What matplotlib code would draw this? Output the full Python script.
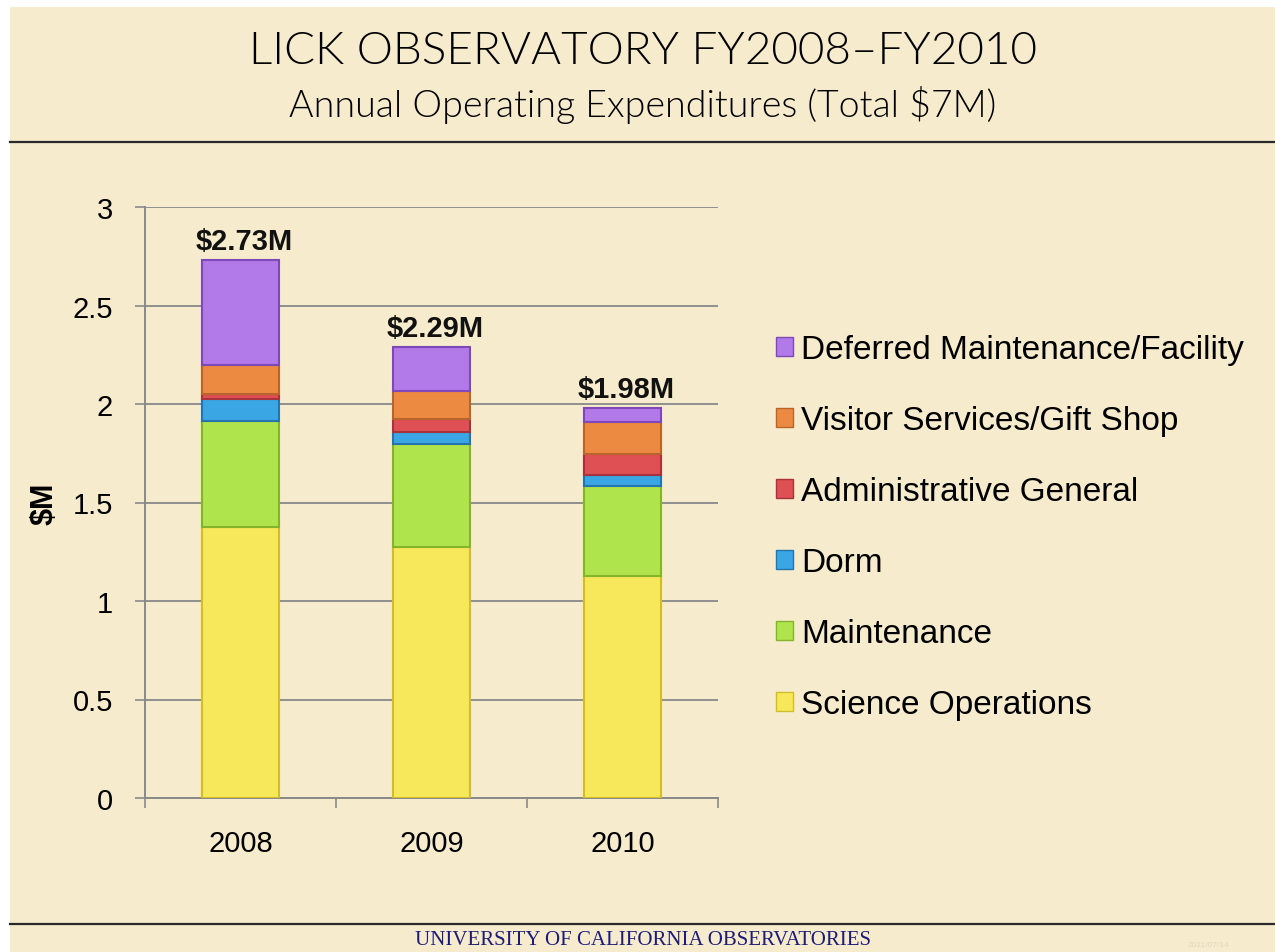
import matplotlib
matplotlib.use("Agg")
import matplotlib.pyplot as plt
from matplotlib.patches import Patch, Rectangle
from matplotlib.lines import Line2D
import numpy as np

# datos ($M)
years = ["2008", "2009", "2010"]
categories = ["Science Operations", "Maintenance", "Dorm",
              "Administrative General", "Visitor Services/Gift Shop",
              "Deferred Maintenance/Facility"]
science = [1.375, 1.273, 1.128]
maintenance = [0.540, 0.524, 0.454]
dorm = [0.110, 0.062, 0.058]
admin = [0.025, 0.065, 0.106]
visitor = [0.150, 0.143, 0.161]
deferred = [0.530, 0.223, 0.073]
total_labels = ["$2.73M", "$2.29M", "$1.98M"]

colors = ["#f6e85a", "#b0e44c", "#3ba6e4", "#de5054", "#ec8a42", "#b27ae8"]
edges = ["#d2bc2a", "#84b42a", "#2474b0", "#a8333a", "#b8642a", "#7e48b8"]

plt.rcParams["font.family"] = ["Liberation Sans", "DejaVu Sans"]

W, H = 1275, 953
fig = plt.figure(figsize=(W / 100, H / 100), dpi=100)
fig.patch.set_facecolor("white")
fig.patches.append(Rectangle((10 / W, 0), 1 - 10 / W, 1 - 8 / H,
                             transform=fig.transFigure, facecolor="#f6ebcd",
                             edgecolor="none", zorder=-10))

# lineas horizontales del marco
fig.add_artist(Line2D([10 / W, 1], [1 - 143 / H] * 2, color="#2a2a2a", lw=1.6,
                      transform=fig.transFigure))
fig.add_artist(Line2D([10 / W, 1], [1 - 925 / H] * 2, color="#2a2a2a", lw=1.6,
                      transform=fig.transFigure))

fig.text(643 / W, 1 - 52 / H, "LICK OBSERVATORY FY2008\u2013FY2010",
         ha="center", va="center", fontsize=33, fontweight=300,
         family=["Lato", "DejaVu Sans"], color="black")
fig.text(643 / W, 1 - 105 / H, "Annual Operating Expenditures (Total $7M)",
         ha="center", va="center", fontsize=27, fontweight=300,
         family=["Lato", "DejaVu Sans"], color="black")
fig.text(643 / W, 1 - 941 / H, "UNIVERSITY OF CALIFORNIA OBSERVATORIES",
         ha="center", va="center", fontsize=15,
         family=["Liberation Serif", "DejaVu Serif"], color="#1c1c78")
fig.text(1208 / W, 1 - 946 / H, "2011/07/14", ha="center", va="center",
         fontsize=6, color="#e2d8bd")
fig.text(45 / W, 1 - 504 / H, "$M", ha="center", va="center", rotation=90,
         fontsize=22, fontweight="bold")

ax = fig.add_axes([145 / W, 1 - 799 / H, 573 / W, 591 / H])
ax.set_facecolor("none")

x = np.arange(len(years))
series = [science, maintenance, dorm, admin, visitor, deferred]
bottom = np.zeros(len(years))
for vals, name, c, ec in zip(series, categories, colors, edges):
    ax.bar(x, vals, width=0.40, bottom=bottom, color=c, edgecolor=ec,
           linewidth=1.5, label=name, zorder=3)
    bottom = bottom + np.array(vals)

for xi, top, lab in zip(x, bottom, total_labels):
    ax.text(xi + 0.02, top + 0.025, lab, ha="center", va="bottom",
            fontsize=21, fontweight="bold", color="#111111")

ax.set_xlim(-0.5, 2.5)
ax.set_ylim(0, 3)
ax.set_yticks([0, 0.5, 1, 1.5, 2, 2.5, 3])
ax.set_yticklabels(["0", "0.5", "1", "1.5", "2", "2.5", "3"])
ax.set_xticks(x)
ax.set_xticklabels(years)
ax.set_xticks([-0.5, 0.5, 1.5, 2.5], minor=True)
ax.tick_params(axis="x", which="major", length=0, pad=22, labelsize=21)
ax.tick_params(axis="x", which="minor", length=7, color="#8a8a8a", width=1.2)
ax.tick_params(axis="y", length=7, color="#8a8a8a", width=1.2, pad=16,
               labelsize=21)
ax.grid(axis="y", color="#8f8f8f", linewidth=1.4, zorder=0)
for s in ["top", "right"]:
    ax.spines[s].set_visible(False)
for s in ["left", "bottom"]:
    ax.spines[s].set_color("#8a8a8a")
    ax.spines[s].set_linewidth(1.4)

handles = [Patch(facecolor=c, edgecolor=ec) for c, ec in zip(colors, edges)]
leg = fig.legend(handles[::-1], categories[::-1], loc="upper left",
                 bbox_to_anchor=(746 / W, 1 - 305 / H), frameon=False,
                 fontsize=24, handlelength=0.5, handleheight=0.5,
                 handletextpad=0.25, labelspacing=1.2)

fig.savefig("out.png", dpi=100, facecolor=fig.get_facecolor())
